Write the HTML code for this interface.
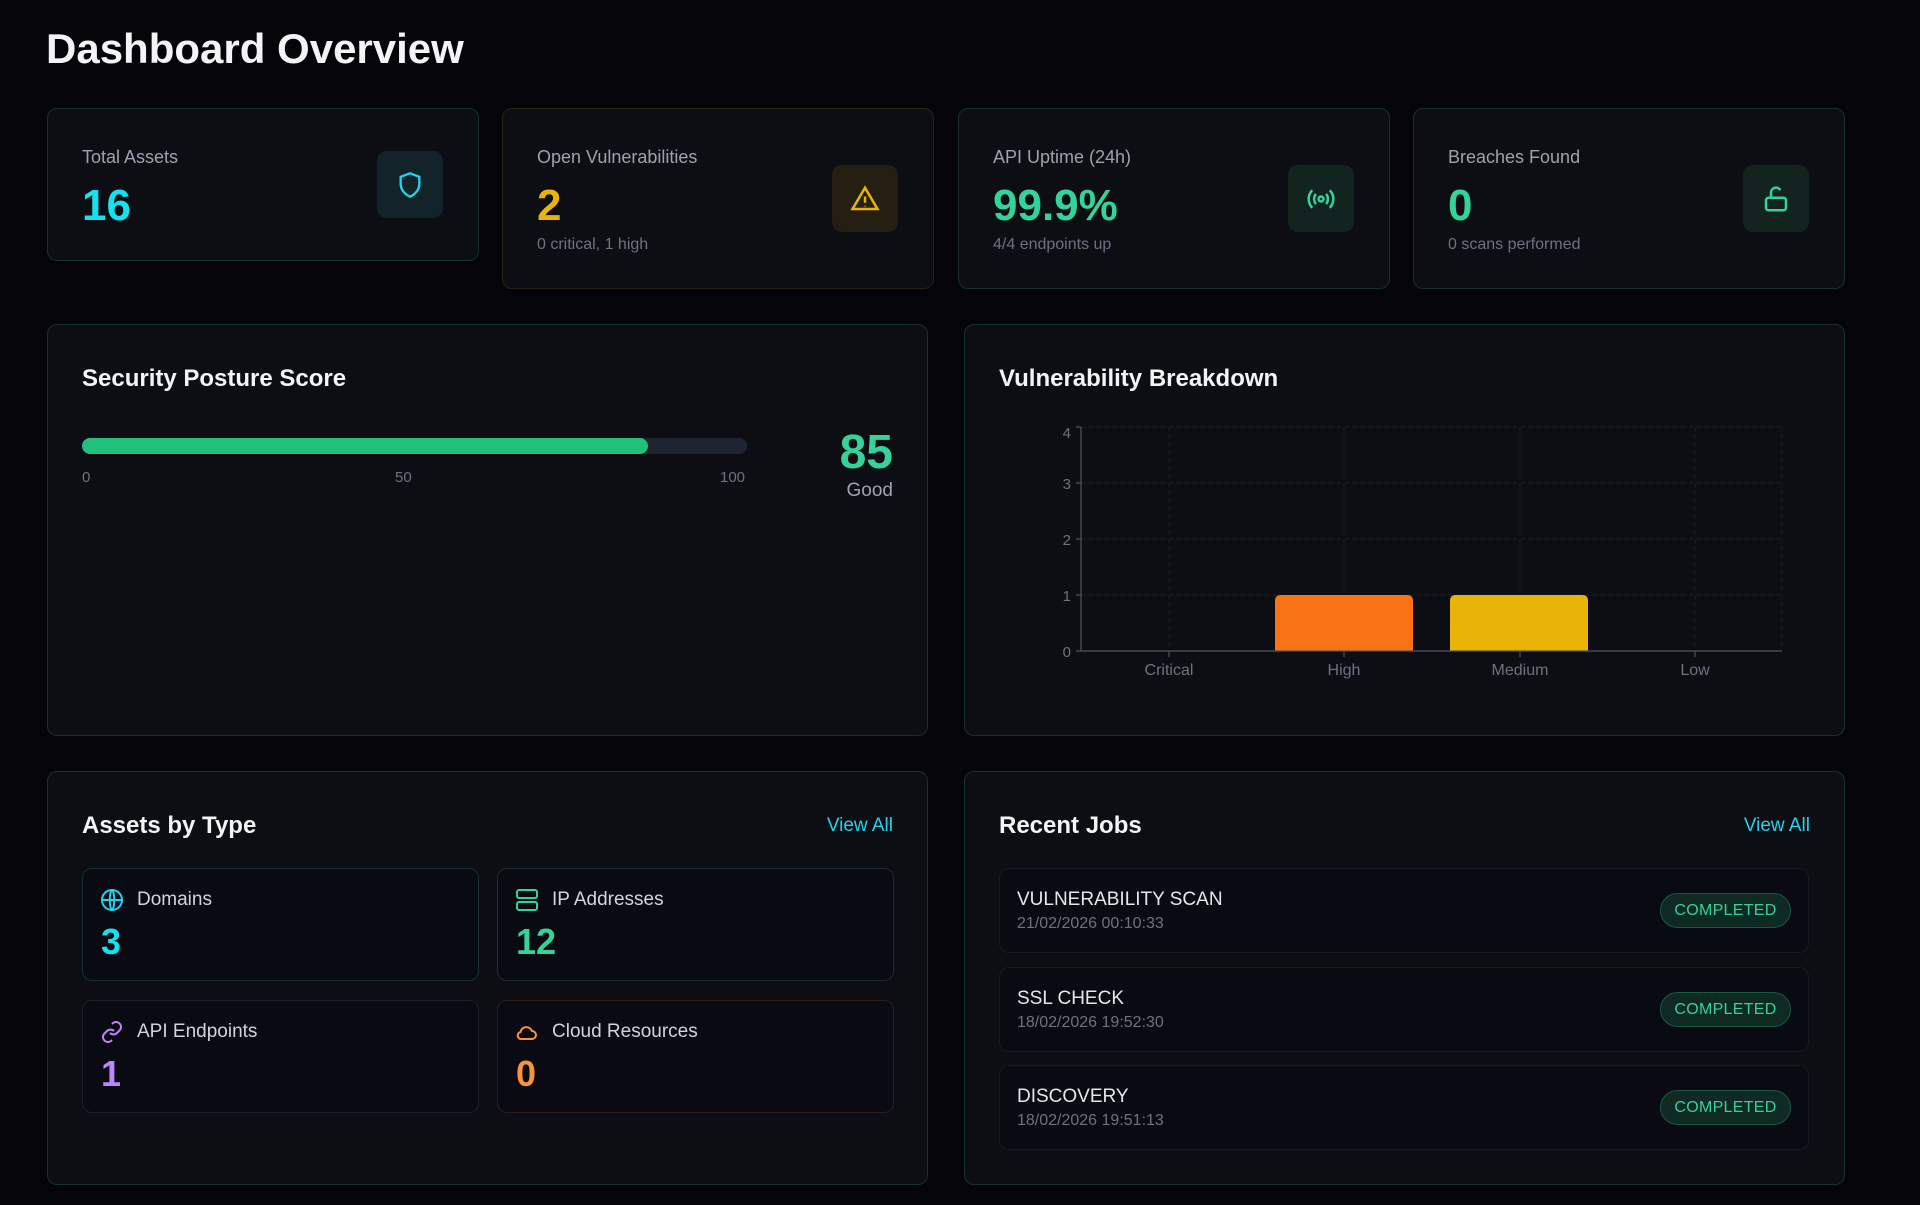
<!DOCTYPE html>
<html><head><meta charset="utf-8"><style>
*{box-sizing:border-box;margin:0;padding:0}
body{width:1920px;height:1205px;background:#050509;font-family:"Liberation Sans",sans-serif;color:#e5e7eb;position:relative;overflow:hidden}
.abs{position:absolute}
.card{position:absolute;background:#0c0e14;border:1.5px solid #16302f;border-radius:10px}
.lbl{position:absolute;font-size:18px;color:#9ca3af}
.val{position:absolute;font-size:44px;font-weight:700}
.sub{position:absolute;font-size:16px;color:#6b7280}
.ib{position:absolute;width:66px;height:67px;border-radius:10px;display:flex;align-items:center;justify-content:center}
.ptitle{position:absolute;left:34px;font-size:24px;font-weight:600;color:#f3f4f6}
.va{position:absolute;right:34px;font-size:19px;color:#22d3ee}
.sc{position:absolute;background:#090a12;border:1.5px solid #17302f;border-radius:10px;width:397px;height:113px}
.sc .t{position:absolute;left:54px;top:20px;font-size:19px;color:#d1d5db}
.sc .n{position:absolute;left:18px;top:52px;font-size:36px;font-weight:700}
.sc svg{position:absolute;left:17px;top:19px}
.job{position:absolute;left:999px;width:810px;height:85px;background:#090a12;border:1px solid #151a20;border-radius:10px}
.job .t{position:absolute;left:17px;top:20px;font-size:19px;color:#e5e7eb;font-weight:500}
.job .d{position:absolute;left:17px;top:46px;font-size:16px;color:#6b7280}
.job .b{position:absolute;right:17px;top:24px;width:131px;height:35px;border-radius:18px;background:#0f2a22;border:1.5px solid #165a44;color:#34d399;font-size:16px;font-weight:500;letter-spacing:0.3px;display:flex;align-items:center;justify-content:center}
</style></head><body>
<div class="abs" style="left:46px;top:25px;font-size:42px;font-weight:700;color:#f3f4f6">Dashboard Overview</div>

<div class="card" style="left:47px;top:108px;width:432px;height:153px">
 <div class="lbl" style="left:34px;top:38px">Total Assets</div>
 <div class="val" style="left:34px;top:72px;color:#14e3ee">16</div>
 <div class="ib" style="left:329px;top:42px;background:#13232a"><svg width="28" height="30" viewBox="0 0 24 24" fill="none" stroke="#22d3ee" stroke-width="2"><path d="M12 2l8 3v6c0 5-3.5 9-8 11-4.5-2-8-6-8-11V5z"/></svg></div>
</div>
<div class="card" style="left:502px;top:108px;width:432px;height:181px;border-color:#2a2216">
 <div class="lbl" style="left:34px;top:38px">Open Vulnerabilities</div>
 <div class="val" style="left:34px;top:72px;color:#eab308">2</div>
 <div class="sub" style="left:34px;top:127px">0 critical, 1 high</div>
 <div class="ib" style="left:329px;top:56px;background:#251e12"><svg width="30" height="30" viewBox="0 0 24 24" fill="none" stroke="#eab308" stroke-width="2"><path d="M12 3L2 20h20z"/><path d="M12 10v5M12 17.5v.5"/></svg></div>
</div>
<div class="card" style="left:958px;top:108px;width:432px;height:181px">
 <div class="lbl" style="left:34px;top:38px">API Uptime (24h)</div>
 <div class="val" style="left:34px;top:72px;color:#34d399">99.9%</div>
 <div class="sub" style="left:34px;top:127px">4/4 endpoints up</div>
 <div class="ib" style="left:329px;top:56px;background:#13231f"><svg width="30" height="30" viewBox="0 0 24 24" fill="none" stroke="#34d399" stroke-width="2"><circle cx="12" cy="12" r="2"/><path d="M8 8a6 6 0 000 8M16 8a6 6 0 010 8M5 5a10 10 0 000 14M19 5a10 10 0 010 14"/></svg></div>
</div>
<div class="card" style="left:1413px;top:108px;width:432px;height:181px">
 <div class="lbl" style="left:34px;top:38px">Breaches Found</div>
 <div class="val" style="left:34px;top:72px;color:#34d399">0</div>
 <div class="sub" style="left:34px;top:127px">0 scans performed</div>
 <div class="ib" style="left:329px;top:56px;background:#13231f"><svg width="30" height="30" viewBox="0 0 24 24" fill="none" stroke="#34d399" stroke-width="2"><rect x="4" y="11" width="16" height="10" rx="2"/><path d="M8 11V7a4 4 0 017.5-2"/></svg></div>
</div>

<div class="card" style="left:47px;top:324px;width:881px;height:412px">
 <div class="ptitle" style="top:40px">Security Posture Score</div>
 <div class="abs" style="left:34px;top:113px;width:665px;height:16px;border-radius:8px;background:#1f2530"><div style="width:566px;height:16px;border-radius:8px;background:#22c07a"></div></div>
 <div class="abs" style="left:34px;top:144px;font-size:15px;color:#6b7280">0</div>
 <div class="abs" style="left:347px;top:144px;font-size:15px;color:#6b7280">50</div>
 <div class="abs" style="left:672px;top:144px;font-size:15px;color:#6b7280">100</div>
 <div class="abs" style="right:34px;top:100px;font-size:48px;font-weight:700;color:#34d399">85</div>
 <div class="abs" style="right:34px;top:155px;font-size:19px;color:#9ca3af">Good</div>
</div>

<div class="card" style="left:964px;top:324px;width:881px;height:412px">
 <div class="ptitle" style="top:40px">Vulnerability Breakdown</div>
</div>
<svg class="abs" style="left:0;top:0" width="1920" height="1205">
 <g stroke="#16211f" stroke-dasharray="4 4" stroke-width="1">
  <line x1="1081" y1="427" x2="1782" y2="427"/><line x1="1081" y1="483" x2="1782" y2="483"/><line x1="1081" y1="539" x2="1782" y2="539"/><line x1="1081" y1="595" x2="1782" y2="595"/>
  <line x1="1169" y1="427" x2="1169" y2="651"/><line x1="1344" y1="427" x2="1344" y2="651"/><line x1="1520" y1="427" x2="1520" y2="651"/><line x1="1695" y1="427" x2="1695" y2="651"/><line x1="1782" y1="427" x2="1782" y2="651"/>
 </g>
 <path d="M1275 651V600a5 5 0 015-5h128a5 5 0 015 5v51z" fill="#f97316"/>
 <path d="M1450 651V600a5 5 0 015-5h128a5 5 0 015 5v51z" fill="#eab308"/>
 <g stroke="#4b5563" stroke-width="1.2">
  <line x1="1081" y1="427" x2="1081" y2="651"/><line x1="1081" y1="651" x2="1782" y2="651"/>
  <line x1="1076" y1="427" x2="1081" y2="427"/><line x1="1076" y1="483" x2="1081" y2="483"/><line x1="1076" y1="539" x2="1081" y2="539"/><line x1="1076" y1="595" x2="1081" y2="595"/><line x1="1076" y1="651" x2="1081" y2="651"/>
  <line x1="1169" y1="651" x2="1169" y2="657"/><line x1="1344" y1="651" x2="1344" y2="657"/><line x1="1520" y1="651" x2="1520" y2="657"/><line x1="1695" y1="651" x2="1695" y2="657"/>
 </g>
 <g font-family="Liberation Sans" font-size="15" fill="#6b7280" text-anchor="end">
  <text x="1071" y="438">4</text><text x="1071" y="489">3</text><text x="1071" y="545">2</text><text x="1071" y="601">1</text><text x="1071" y="657">0</text>
 </g>
 <g font-family="Liberation Sans" font-size="16" fill="#6b7280" text-anchor="middle">
  <text x="1169" y="675">Critical</text><text x="1344" y="675">High</text><text x="1520" y="675">Medium</text><text x="1695" y="675">Low</text>
 </g>
</svg>

<div class="card" style="left:47px;top:771px;width:881px;height:414px">
 <div class="ptitle" style="top:40px">Assets by Type</div>
 <div class="va" style="top:43px">View All</div>
</div>
<div class="sc" style="left:82px;top:868px"><svg width="24" height="24" viewBox="0 0 24 24" fill="none" stroke="#22d3ee" stroke-width="2"><circle cx="12" cy="12" r="10"/><path d="M2 12h20M12 2c3 3 3 17 0 20M12 2c-3 3-3 17 0 20"/></svg><div class="t">Domains</div><div class="n" style="color:#14e3ee">3</div></div>
<div class="sc" style="left:497px;top:868px"><svg width="24" height="24" viewBox="0 0 24 24" fill="none" stroke="#34d399" stroke-width="2"><rect x="2" y="2" width="20" height="8" rx="2"/><rect x="2" y="14" width="20" height="8" rx="2"/><path d="M6 6h.01M6 18h.01"/></svg><div class="t">IP Addresses</div><div class="n" style="color:#34d399">12</div></div>
<div class="sc" style="left:82px;top:1000px;border-color:#1c1f2c"><svg width="24" height="24" viewBox="0 0 24 24" fill="none" stroke="#c084fc" stroke-width="2"><path d="M10 13a5 5 0 007 0l3-3a5 5 0 00-7-7l-1 1M14 11a5 5 0 00-7 0l-3 3a5 5 0 007 7l1-1"/></svg><div class="t">API Endpoints</div><div class="n" style="color:#c084fc">1</div></div>
<div class="sc" style="left:497px;top:1000px;border-color:#2a2016"><svg width="24" height="24" viewBox="0 0 24 24" fill="none" stroke="#fb923c" stroke-width="2"><path d="M7 19h10a4 4 0 000-8 6 6 0 00-11.5 1A3.5 3.5 0 007 19z"/></svg><div class="t">Cloud Resources</div><div class="n" style="color:#fb923c">0</div></div>

<div class="card" style="left:964px;top:771px;width:881px;height:414px">
 <div class="ptitle" style="top:40px">Recent Jobs</div>
 <div class="va" style="top:43px">View All</div>
</div>
<div class="job" style="top:868px"><div class="t">VULNERABILITY SCAN</div><div class="d">21/02/2026 00:10:33</div><div class="b">COMPLETED</div></div>
<div class="job" style="top:967px"><div class="t">SSL CHECK</div><div class="d">18/02/2026 19:52:30</div><div class="b">COMPLETED</div></div>
<div class="job" style="top:1065px"><div class="t">DISCOVERY</div><div class="d">18/02/2026 19:51:13</div><div class="b">COMPLETED</div></div>
</body></html>
